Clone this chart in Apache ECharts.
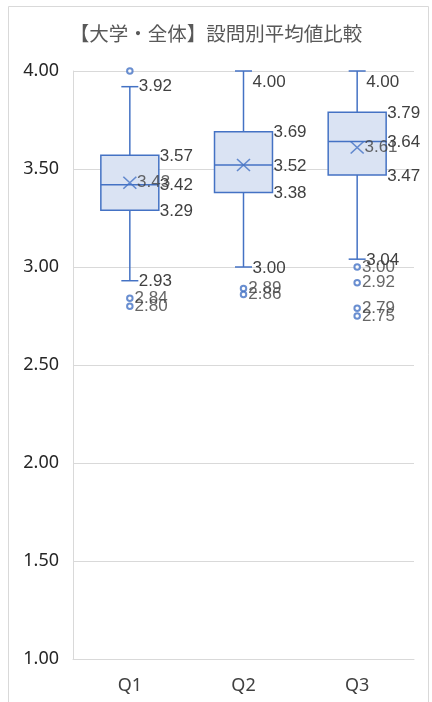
<!DOCTYPE html>
<html>
<head>
<meta charset="utf-8">
<script src="https://cdn.jsdelivr.net/npm/echarts@6/dist/echarts.min.js"></script>
<style>html,body{margin:0;padding:0;background:#fff;}#c{width:432px;height:702px;}</style>
</head>
<body>
<div id="c"></div>
<script>
var categories = ['Q1', 'Q2', 'Q3'];
var mins    = [2.93, 3.00, 3.04];
var q1s     = [3.29, 3.38, 3.47];
var medians = [3.42, 3.52, 3.64];
var q3s     = [3.57, 3.69, 3.79];
var maxs    = [3.92, 4.00, 4.00];
var means   = [3.43, 3.52, 3.61];
var outliers = [[4.00, 2.84, 2.80], [2.89, 2.86], [3.00, 2.92, 2.79, 2.75]];
var yTicks = [1.00, 1.50, 2.00, 2.50, 3.00, 3.50, 4.00];

var BLUE = '#4472C4';
var FILL = '#DAE3F3';
var LABEL = '#404040';
var LFONT = 'Liberation Sans, Arial, sans-serif';
var LSIZE = 17;
var yMin = yTicks[0], yMax = yTicks[yTicks.length - 1];

var boxData = categories.map(function (c, i) {
  return [i, mins[i], q1s[i], medians[i], q3s[i], maxs[i]];
});
var meanData = categories.map(function (c, i) {
  return { value: [i, means[i]], label: { show: means[i].toFixed(2) !== medians[i].toFixed(2) } };
});
var outData = [];
outliers.forEach(function (arr, i) {
  arr.forEach(function (v) {
    outData.push({ value: [i, v], label: { show: v < yMax } });
  });
});

function txt(x, y, v) {
  return { type: 'text', z2: 20, style: { x: x, y: y, text: v.toFixed(2), fill: LABEL,
    fontSize: LSIZE, fontFamily: LFONT, align: 'left', verticalAlign: 'middle' } };
}

function renderBox(params, api) {
  var idx = api.value(0);
  var band = api.size([1, 0])[0];
  var half = band * 0.255;
  var cap = 8.5;
  var top = api.coord([0, yMax])[1];
  var p = {};
  ['min', 'q1', 'med', 'q3', 'max'].forEach(function (k, j) {
    p[k] = api.coord([idx, api.value(j + 1)]);
  });
  var cx = p.med[0];
  var ls = { stroke: BLUE, lineWidth: 1.5, fill: null };
  var children = [
    { type: 'line', shape: { x1: cx, y1: p.max[1], x2: cx, y2: p.q3[1] }, style: ls },
    { type: 'line', shape: { x1: cx, y1: p.q1[1], x2: cx, y2: p.min[1] }, style: ls },
    { type: 'line', shape: { x1: cx - cap, y1: p.max[1], x2: cx + cap, y2: p.max[1] }, style: ls },
    { type: 'line', shape: { x1: cx - cap, y1: p.min[1], x2: cx + cap, y2: p.min[1] }, style: ls },
    { type: 'rect', shape: { x: cx - half, y: p.q3[1], width: half * 2, height: p.q1[1] - p.q3[1] },
      style: { fill: FILL, stroke: BLUE, lineWidth: 1.5 } },
    { type: 'line', shape: { x1: cx - half, y1: p.med[1], x2: cx + half, y2: p.med[1] }, style: ls }
  ];
  var maxY = p.max[1];
  if (maxY - 10 < top) maxY = top + 11;
  children.push(txt(cx + 9, maxY, api.value(5)));
  children.push(txt(cx + 9, p.min[1] + 1, api.value(1)));
  children.push(txt(cx + half + 1, p.q3[1] + 1, api.value(4)));
  children.push(txt(cx + half + 1, p.med[1] + 1, api.value(3)));
  children.push(txt(cx + half + 1, p.q1[1] + 1, api.value(2)));
  return { type: 'group', children: children };
}

var chart = echarts.init(document.getElementById('c'), null, { renderer: 'canvas' });
chart.setOption({
  backgroundColor: '#fff',
  animation: false,
  title: {
    text: '【大学・全体】設問別平均値比較',
    left: 'center', top: 19,
    textStyle: { fontSize: 19.5, fontWeight: 'normal', color: '#595959',
      fontFamily: 'Noto Sans CJK JP, Noto Sans, sans-serif' }
  },
  graphic: [{
    type: 'rect', z: -10, silent: true,
    shape: { x: 8.5, y: 6.5, width: 420, height: 730 },
    style: { fill: 'none', stroke: '#d9d9d9', lineWidth: 1 }
  }],
  grid: { left: 73, right: 18, top: 71, bottom: 43, containLabel: false },
  xAxis: {
    type: 'category', data: categories,
    axisTick: { show: false },
    axisLine: { lineStyle: { color: '#d9d9d9', width: 1 } },
    axisLabel: { fontSize: 18, color: '#404040', margin: 18, fontFamily: 'Noto Sans, sans-serif' },
    splitLine: { show: false }
  },
  yAxis: {
    type: 'value', min: yMin, max: yMax, interval: 0.5,
    axisLine: { show: true, lineStyle: { color: '#d9d9d9', width: 1 } },
    axisTick: { show: false },
    axisLabel: { fontSize: 18, color: '#262626', margin: 14, fontFamily: 'Noto Sans, sans-serif',
      formatter: function (v) { return v.toFixed(2); } },
    splitLine: { lineStyle: { color: '#d9d9d9', width: 1 } }
  },
  series: [
    {
      type: 'custom', renderItem: renderBox, data: boxData, clip: false, z: 2,
      encode: { x: 0, y: [1, 2, 3, 4, 5] }
    },
    {
      type: 'scatter', data: meanData, z: 3,
      symbol: 'path://M0,0 L10,10 M10,0 L0,10', symbolSize: [13, 12],
      itemStyle: { color: 'transparent', borderColor: BLUE, borderWidth: 1.5 },
      label: { show: true, position: 'right', distance: 0, color: LABEL, fontSize: LSIZE, fontFamily: LFONT,
        formatter: function (p) { return p.value[1].toFixed(2); } }
    },
    {
      type: 'scatter', data: outData, z: 3, clip: false,
      symbol: 'emptyCircle', symbolSize: 5.5,
      itemStyle: { color: BLUE, borderColor: BLUE, borderWidth: 1.5 },
      label: { position: 'right', distance: 1, color: LABEL, fontSize: LSIZE, fontFamily: LFONT,
        formatter: function (p) { return p.value[1].toFixed(2); } },
      labelLayout: { hideOverlap: false }
    }
  ]
});
</script>
</body>
</html>
